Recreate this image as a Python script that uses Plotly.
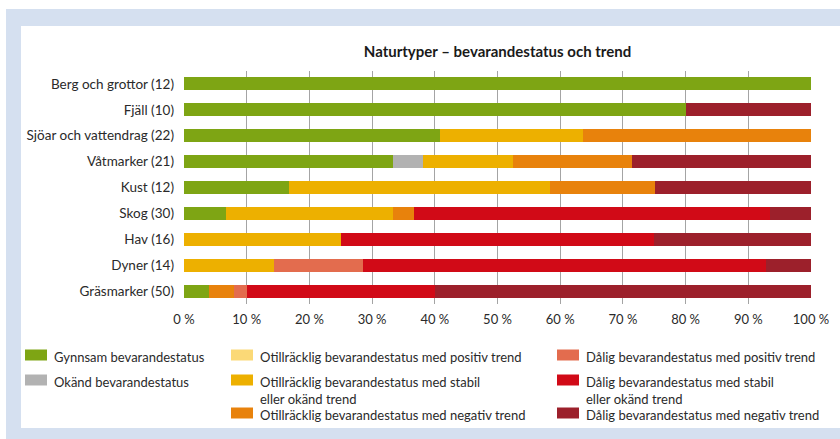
import plotly.graph_objects as go

categories = ["Berg och grottor (12)", "Fjäll (10)", "Sjöar och vattendrag (22)", "Våtmarker (21)",
              "Kust (12)", "Skog (30)", "Hav (16)", "Dyner (14)", "Gräsmarker (50)"]

gynnsam = [100, 80, 40.9, 33.3, 16.7, 6.7, 0, 0, 4]
okand = [0, 0, 0, 4.8, 0, 0, 0, 0, 0]
otill_pos = [0, 0, 0, 0, 0, 0, 0, 0, 0]
otill_stab = [0, 0, 22.7, 14.3, 41.7, 26.7, 25, 14.3, 0]
otill_neg = [0, 0, 36.4, 19.0, 16.7, 3.3, 0, 0, 4]
dalig_pos = [0, 0, 0, 0, 0, 0, 0, 14.3, 2]
dalig_stab = [0, 0, 0, 0, 0, 56.7, 50, 64.3, 30]
dalig_neg = [0, 20, 0, 28.6, 25, 6.7, 25, 7.1, 60]

series_names = [
    "Gynnsam bevarandestatus",
    "Okänd bevarandestatus",
    "Otillräcklig bevarandestatus med positiv trend",
    "Otillräcklig bevarandestatus med stabil<br>eller okänd trend",
    "Otillräcklig bevarandestatus med negativ trend",
    "Dålig bevarandestatus med positiv trend",
    "Dålig bevarandestatus med stabil<br>eller okänd trend",
    "Dålig bevarandestatus med negativ trend",
]
series_values = [gynnsam, okand, otill_pos, otill_stab, otill_neg, dalig_pos, dalig_stab, dalig_neg]
colors = ["#7ea514", "#b2b2b2", "#fbd977", "#edb000", "#e8820c", "#e36c4e", "#d10a17", "#9c202b"]

tick_vals = [0, 10, 20, 30, 40, 50, 60, 70, 80, 90, 100]
tick_text = ["0 %", "10 %", "20 %", "30 %", "40 %", "50 %", "60 %", "70 %", "80 %", "90 %", "100 %"]

W, H = 840, 439
L, R, T, B = 184, 811, 71, 304
FONT = "Lato"


def px(x):
    return (x - L) / (R - L)


def py(y):
    return (B - y) / (B - T)


fig = go.Figure()
for name, vals, col in zip(series_names, series_values, colors):
    fig.add_trace(go.Bar(
        y=categories, x=vals, name=name, orientation="h",
        marker=dict(color=col, line=dict(width=0)), showlegend=False,
    ))

shapes = [
    dict(type="rect", xref="paper", yref="paper", x0=px(6), x1=px(845), y0=py(445), y1=py(9),
         fillcolor="#d5e0f0", line=dict(width=0), layer="below"),
    dict(type="rect", xref="paper", yref="paper", x0=px(21), x1=px(845), y0=py(428), y1=py(26),
         fillcolor="#ffffff", line=dict(width=0), layer="below"),
]
annotations = []

# legend: three columns
legend_layout = [
    (0, 25, 355), (1, 25, 380),
    (2, 231, 355), (3, 231, 380), (4, 231, 413),
    (5, 557, 355), (6, 557, 380), (7, 557, 413),
]
for idx, x0, yc in legend_layout:
    shapes.append(dict(type="rect", xref="paper", yref="paper",
                       x0=px(x0), x1=px(x0 + 22), y0=py(yc + 5.5), y1=py(yc - 5.5),
                       fillcolor=colors[idx], line=dict(width=0)))
    annotations.append(dict(xref="paper", yref="paper", x=px(x0 + 27), y=py(yc - 8.5),
                            xanchor="left", yanchor="top", align="left", showarrow=False,
                            text=series_names[idx],
                            font=dict(family=FONT, size=13, color="#2a2a2a")))

fig.update_layout(
    width=W, height=H,
    barmode="stack", bargap=0.5,
    template="none",
    paper_bgcolor="white", plot_bgcolor="rgba(0,0,0,0)",
    margin=dict(l=L, r=W - R, t=T, b=H - B, pad=0),
    title=dict(text="<b>Naturtyper – bevarandestatus och trend</b>", x=0.5, xref="paper",
               xanchor="center", y=1 - 52 / H, yref="container", yanchor="middle",
               font=dict(family=FONT, size=15, color="#1a1a1a")),
    xaxis=dict(range=[0, 100], tickvals=tick_vals, ticktext=tick_text, showgrid=True,
               gridcolor="#a4a4a4", gridwidth=1, zeroline=False, showline=False,
               ticks="", ticklabelstandoff=6,
               tickfont=dict(family=FONT, size=13, color="#2a2a2a")),
    yaxis=dict(categoryorder="array", categoryarray=categories, autorange="reversed",
               showgrid=False, zeroline=False, showline=False, ticks="",
               ticklabelstandoff=9,
               tickfont=dict(family=FONT, size=13.5, color="#2a2a2a")),
    shapes=shapes, annotations=annotations,
)

fig.write_html("out.html", config={"displayModeBar": False},
               post_script="document.body.style.margin='0px';")
